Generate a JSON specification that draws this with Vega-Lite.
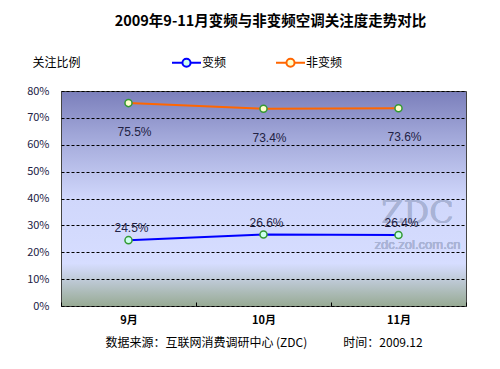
{
  "$schema": "https://vega.github.io/schema/vega-lite/v6.json",
  "width": 405,
  "height": 215,
  "autosize": {"type": "none"},
  "padding": {"left": 61, "top": 91, "right": 34, "bottom": 63},
  "background": "white",
  "title": {
    "text": "2009年9-11月变频与非变频空调关注度走势对比",
    "font": "Noto Sans CJK SC",
    "fontSize": 14.5,
    "fontWeight": "bold",
    "color": "#000000",
    "anchor": "middle",
    "dx": 7,
    "offset": 18
  },
  "config": {
    "font": "Noto Sans CJK SC",
    "view": {
      "fill": {
        "gradient": "linear",
        "x1": 0, "y1": 0, "x2": 0, "y2": 1,
        "stops": [
          {"offset": 0, "color": "#7b7fbb"},
          {"offset": 0.2, "color": "#a0a6d8"},
          {"offset": 0.5, "color": "#d0d7fb"},
          {"offset": 0.8, "color": "#d6ddff"},
          {"offset": 0.86, "color": "#c4cee0"},
          {"offset": 1, "color": "#97aa93"}
        ]
      },
      "stroke": "#444444",
      "strokeWidth": 1
    }
  },
  "data": {
    "values": [
      {"month": "9月", "series": "变频", "value": 0.245},
      {"month": "10月", "series": "变频", "value": 0.266},
      {"month": "11月", "series": "变频", "value": 0.264},
      {"month": "9月", "series": "非变频", "value": 0.755},
      {"month": "10月", "series": "非变频", "value": 0.734},
      {"month": "11月", "series": "非变频", "value": 0.736}
    ]
  },
  "encoding": {
    "x": {
      "field": "month",
      "type": "nominal",
      "sort": ["9月", "10月", "11月"],
      "scale": {"type": "band", "paddingInner": 0, "paddingOuter": 0},
      "axis": {
        "title": "数据来源：互联网消费调研中心 (ZDC)　　　时间：2009.12",
        "titleFont": "Noto Sans CJK SC",
        "titleFontSize": 12,
        "titleFontWeight": "normal",
        "titleColor": "#000000",
        "titlePadding": 12,
        "labelAngle": 0,
        "labelFontSize": 11,
        "labelFontWeight": "bold",
        "labelColor": "#000000",
        "labelPadding": 12,
        "domain": false,
        "tickBand": "extent",
        "tickSize": -4,
        "tickColor": "#000000",
        "grid": false
      }
    },
    "y": {
      "field": "value",
      "type": "quantitative",
      "scale": {"domain": [0, 0.8], "nice": false},
      "axis": {
        "title": "关注比例",
        "titleAngle": 0,
        "titleX": -29,
        "titleY": -29,
        "titleAlign": "left",
        "titleBaseline": "middle",
        "titleFontSize": 12,
        "titleFontWeight": "normal",
        "titleColor": "#000000",
        "values": [0, 0.1, 0.2, 0.3, 0.4, 0.5, 0.6, 0.7, 0.8],
        "format": ".0%",
        "labelFontSize": 11,
        "labelColor": "#222244",
        "labelPadding": 12,
        "domain": false,
        "ticks": false,
        "grid": true,
        "gridColor": "#000000",
        "gridDash": [3, 2],
        "gridWidth": 1
      }
    }
  },
  "layer": [
    {
      "mark": {"type": "text", "font": "DejaVu Serif", "fontSize": 32, "color": "#a9b3d6", "opacity": 0.6, "dx": 19},
      "encoding": {
        "x": {"datum": "11月"},
        "y": {"datum": 0.346},
        "text": {"value": "ZDC"}
      }
    },
    {
      "mark": {"type": "text", "fontSize": 13, "color": "#a9b3d6", "opacity": 0.8, "dx": 19, "font": "Liberation Sans"},
      "encoding": {
        "x": {"datum": "11月"},
        "y": {"datum": 0.227},
        "text": {"value": "zdc.zol.com.cn"}
      }
    },
    {
      "mark": {"type": "line", "strokeWidth": 2},
      "encoding": {
        "color": {
          "field": "series",
          "type": "nominal",
          "scale": {"domain": ["变频", "非变频"], "range": ["#0000ff", "#ff6600"]},
          "legend": {
            "orient": "none",
            "legendX": 110,
            "legendY": -44,
            "direction": "horizontal",
            "title": null,
            "symbolType": "M-1,0H-0.28M0.28,0H1M0.28,0A0.28,0.28 0 1 1 -0.28,0A0.28,0.28 0 1 1 0.28,0",
            "symbolSize": 841,
            "symbolStrokeWidth": 2,
            "symbolFillColor": "#ccffee",
            "labelFontSize": 12,
            "labelColor": "#000000",
            "labelOffset": 0,
            "columnPadding": 45
          }
        }
      }
    },
    {
      "mark": {"type": "point", "filled": true, "size": 50, "stroke": "#339933", "strokeWidth": 1.5, "opacity": 1},
      "encoding": {
        "fill": {
          "field": "series",
          "type": "nominal",
          "scale": {"domain": ["变频", "非变频"], "range": ["#ccffee", "#ffffcc"]},
          "legend": null
        }
      }
    },
    {
      "transform": [{"filter": "datum.series === '变频'"}],
      "mark": {"type": "text", "fontSize": 12, "color": "#222244", "dx": 3, "dy": -12, "font": "Liberation Sans"},
      "encoding": {"text": {"field": "value", "type": "quantitative", "format": ".1%"}}
    },
    {
      "transform": [{"filter": "datum.series === '非变频'"}],
      "mark": {"type": "text", "fontSize": 12, "color": "#222244", "dx": 6, "dy": 29, "font": "Liberation Sans"},
      "encoding": {"text": {"field": "value", "type": "quantitative", "format": ".1%"}}
    }
  ]
}
